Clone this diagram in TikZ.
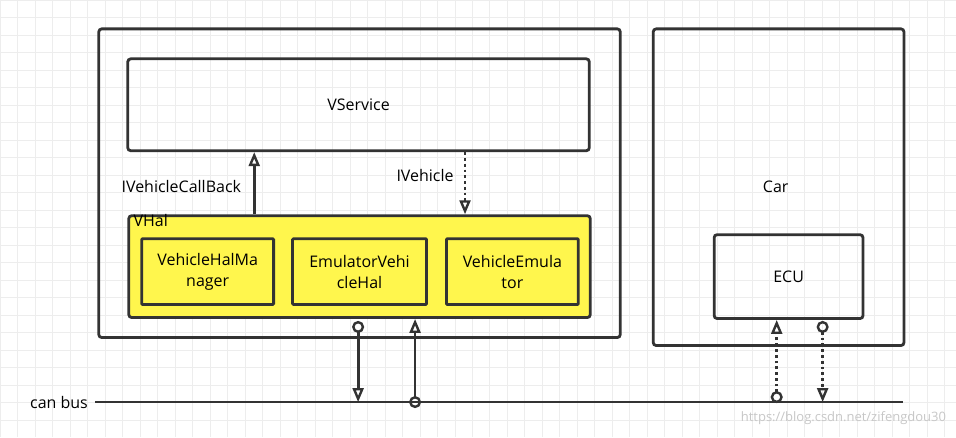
\documentclass[tikz,border=0pt]{standalone}
\usepackage{fontspec}
\setmainfont{Open Sans}
\usetikzlibrary{positioning, arrows.meta, calc}

\begin{document}
\begin{tikzpicture}[
    x=1pt, y=-1pt,
    font=\fontsize{16}{21}\selectfont,
    box/.style={rectangle, draw=black!80, line width=2.8pt, rounded corners=3pt, anchor=north west},
    unit/.style={box, rounded corners=1pt, minimum width=132pt, minimum height=66pt, align=center},
    line/.style={draw=black!80, line width=2.8pt, -{Triangle[open, length=14pt, width=11pt, line width=2.4pt]}},
    dline/.style={line, dash pattern=on 2.8pt off 3pt},
    tail/.style={{Circle[open, length=12pt, line width=2.4pt]}-{Triangle[open, length=14pt, width=11pt, line width=2.4pt]}}
]

    % background grid
    \fill[white] (0,0) rectangle (956,437);
    \foreach \gx in {0,17.5,...,956} \draw[black!7, line width=1pt] (\gx,0) -- (\gx,437);
    \foreach \gy in {0,17.5,...,437} \draw[black!7, line width=1pt] (0,\gy) -- (956,\gy);

    %% Host side
    \node [box, minimum width=522pt, minimum height=309pt] (host) at (97,27) {};
    \node [box, minimum width=462pt, minimum height=92pt] (vservice) at (126,57) {VService};
    \node [box, fill=yellow!70, minimum width=462pt, minimum height=102pt] (vhal) at (127,214) {};
    \node [anchor=north west, inner sep=0pt] (vhallabel) at (133,214) {VHal};
    \node [unit] (manager) at (140,237) {VehicleHalMa\\nager};
    \node [unit, minimum width=134pt] (emuhal) at (291,237) {EmulatorVehi\\cleHal};
    \node [unit] (emulator) at (445,237) {VehicleEmula\\tor};

    %% Car side
    \node [box, minimum width=251pt, minimum height=317pt] (car) at (652,27) {};
    \node at (776,186) (carlabel) {Car};
    \node [box, minimum width=149pt, minimum height=84pt] (ecu) at (713,233) {ECU};

    % bus
    \coordinate (busl) at (95,402);
    \coordinate (busr) at (903,402);
    \draw [draw=black!80, line width=2.8pt] (busl) -- (busr);
    \node [left=4pt of busl] (buslabel) {can bus};

    % interfaces
    \coordinate (cb) at (254,0);
    \coordinate (iv) at (465,0);
    \path [line] (vhal.north -| cb) -- (vservice.south -| cb);
    \path [dline] (vservice.south -| iv) -- (vhal.north -| iv);
    \node at (181,186) (cblabel) {IVehicleCallBack};
    \node at (425,175) (ivlabel) {IVehicle};

    % bus connections
    \coordinate (tx) at (358,0);
    \coordinate (rx) at (415,0);
    \coordinate (ecurx) at (777,0);
    \coordinate (ecutx) at (823,0);
    \path [line, tail] ($(vhal.south -| tx)+(0,2)$) -- (busl -| tx);
    \path [line, tail] ($(busl -| rx)+(0,6)$) -- (vhal.south -| rx);
    \path [dline, tail] ($(busl -| ecurx)+(0,1)$) -- (ecu.south -| ecurx);
    \path [dline, tail] ($(ecu.south -| ecutx)+(0,1)$) -- (busl -| ecutx);

    \node [anchor=east, text=black!22, font=\fontsize{13}{15}\selectfont] (mark) at (950,418) {https://blog.csdn.net/zifengdou30};
\end{tikzpicture}
\end{document}
